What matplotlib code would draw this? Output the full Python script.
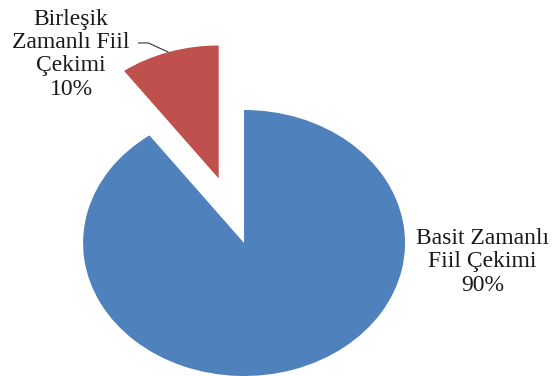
import matplotlib.pyplot as plt

categories = ["Basit Zamanlı\nFiil Çekimi", "Birleşik\nZamanlı Fiil\nÇekimi"]
values = [90, 10]
colors = ["#4F81BD", "#C0504D"]
explode = [0, 0.51]

fig = plt.figure(figsize=(5.53, 3.76), dpi=100)
ax = fig.add_axes([0, 0, 1, 1])

ax.pie(values, explode=explode, colors=colors, startangle=90, counterclock=False,
       wedgeprops={"linewidth": 0})

# stretch the pie into an ellipse like the original
ax.set_aspect("auto")
ax.set_xlim(-1.516, 1.919)
ax.set_ylim(-1.0, 1.827)
ax.axis("off")

font = dict(family="Liberation Serif", fontsize=17, color="#1a1a1a",
            ha="center", va="center", linespacing=1.15)
ax.text(1.48, -0.14, f"{categories[0]}\n{values[0]}%", **font)
ax.text(-1.075, 1.42, f"{categories[1]}\n{values[1]}%", **font)

# leader line for the small slice
ax.plot([-0.655, -0.595, -0.472], [1.504, 1.504, 1.436], color="#333333", lw=0.8)

fig.savefig("out.png", dpi=100)
